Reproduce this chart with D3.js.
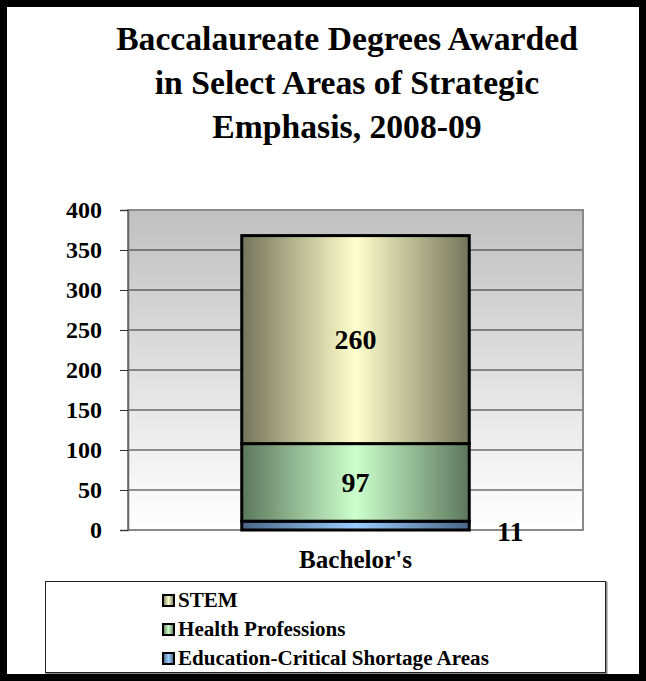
<!DOCTYPE html>
<html>
<head>
<meta charset="utf-8">
<script src="https://cdn.jsdelivr.net/npm/d3@7"></script>
<style>
  html, body { margin: 0; padding: 0; background: #fff; }
  svg { display: block; }
  svg text { font-family: "Liberation Serif", "DejaVu Serif", serif; font-weight: bold; fill: #000; }
</style>
</head>
<body>
<svg id="chart" width="646" height="681"></svg>
<script>
// ---- Data ----
const categories = ["Bachelor's"];
const seriesNames = ["Education-Critical Shortage Areas", "Health Professions", "STEM"];
const educationValues = [11];
const healthValues = [97];
const stemValues = [260];
const yTicks = [0, 50, 100, 150, 200, 250, 300, 350, 400];
const titleLines = ["Baccalaureate Degrees Awarded", "in Select Areas of Strategic", "Emphasis, 2008-09"];
const legendOrder = ["STEM", "Health Professions", "Education-Critical Shortage Areas"];

const colors = {
  "STEM": { edge: "#74745a", mid: "#ffffcc" },
  "Health Professions": { edge: "#5c775c", mid: "#ccffcc" },
  "Education-Critical Shortage Areas": { edge: "#4a6688", mid: "#99ccff" }
};

const svg = d3.select("#chart");
const W = 646, H = 681;
const defs = svg.append("defs");

function fitSize(sel, refNode, target, base) {
  const w = refNode.getComputedTextLength();
  const s = base * target / w;
  sel.style("font-size", s + "px");
  return s;
}

svg.append("rect").attr("x", 0).attr("y", 0).attr("width", W).attr("height", H).attr("fill", "#fff");

// Title
const title = svg.append("text").attr("text-anchor", "middle").style("font-size", "30px");
const tspans = titleLines.map((t, i) =>
  title.append("tspan").attr("x", 347).attr("y", 50 + i * 44).text(t));
fitSize(title, tspans[0].node(), 462, 30);

// Plot area
const plot = { left: 128, right: 583, top: 210, bottom: 530 };
const x = d3.scaleBand().domain(categories).range([plot.left, plot.right]).paddingInner(0.5).paddingOuter(0.25);
const y = d3.scaleLinear().domain([0, 400]).range([plot.bottom, plot.top]);

const bg = defs.append("linearGradient").attr("id", "bg").attr("x1", 0).attr("y1", 0).attr("x2", 0).attr("y2", 1);
bg.append("stop").attr("offset", "0%").attr("stop-color", "#c0c0c0");
bg.append("stop").attr("offset", "100%").attr("stop-color", "#ffffff");

svg.append("rect")
  .attr("x", plot.left).attr("y", plot.top)
  .attr("width", plot.right - plot.left).attr("height", plot.bottom - plot.top)
  .attr("fill", "url(#bg)");

svg.append("g").selectAll("line").data(yTicks.filter(d => d > 0 && d < 400)).join("line")
  .attr("x1", plot.left).attr("x2", plot.right)
  .attr("y1", d => y(d)).attr("y2", d => y(d))
  .attr("stroke", "#2a2a2a").attr("stroke-width", 1);

svg.append("rect")
  .attr("x", plot.left).attr("y", plot.top)
  .attr("width", plot.right - plot.left).attr("height", plot.bottom - plot.top)
  .attr("fill", "none").attr("stroke", "#8a8a8a").attr("stroke-width", 2);

// Y axis
const yAxis = d3.axisLeft(y).tickValues(yTicks).tickSize(8).tickPadding(18).tickFormat(d3.format("d"));
const gy = svg.append("g").attr("transform", `translate(${plot.left},0)`).call(yAxis)
  .attr("font-family", null).attr("font-size", null);
gy.select(".domain").attr("stroke", "#666").attr("stroke-width", 1.5);
gy.selectAll(".tick line").attr("stroke", "#333");
const yTexts = gy.selectAll(".tick text").attr("fill", "#000").style("font-size", "20px");
fitSize(yTexts, yTexts.nodes()[yTexts.size() - 1], 36, 20);

// X axis
const xAxis = d3.axisBottom(x).tickSize(0).tickPadding(20);
const gx = svg.append("g").attr("transform", `translate(0,${plot.bottom})`).call(xAxis)
  .attr("font-family", null).attr("font-size", null);
gx.select(".domain").remove();
const xTexts = gx.selectAll(".tick text").attr("fill", "#000").style("font-size", "20px");
fitSize(xTexts, xTexts.node(), 113, 20);

// Stack
const rows = categories.map((c, i) => ({
  category: c,
  "Education-Critical Shortage Areas": educationValues[i],
  "Health Professions": healthValues[i],
  "STEM": stemValues[i]
}));
const stack = d3.stack().keys(seriesNames)(rows);

seriesNames.forEach((name, i) => {
  const g = defs.append("linearGradient").attr("id", "grad" + i).attr("x1", 0).attr("y1", 0).attr("x2", 1).attr("y2", 0);
  g.append("stop").attr("offset", "0%").attr("stop-color", colors[name].edge);
  g.append("stop").attr("offset", "50%").attr("stop-color", colors[name].mid);
  g.append("stop").attr("offset", "100%").attr("stop-color", colors[name].edge);
});

const layers = svg.append("g").selectAll("g").data(stack).join("g")
  .attr("fill", (d, i) => `url(#grad${i})`);
layers.selectAll("rect").data(d => d.map(p => ({ p, key: d.key }))).join("rect")
  .attr("x", d => x(d.p.data.category))
  .attr("width", x.bandwidth())
  .attr("y", d => y(d.p[1]))
  .attr("height", d => y(d.p[0]) - y(d.p[1]))
  .attr("stroke", "#000").attr("stroke-width", 3);

// Data labels
const labelG = svg.append("g");
stack.forEach(layer => {
  layer.forEach(p => {
    const v = p[1] - p[0];
    let lx = x(p.data.category) + x.bandwidth() / 2;
    let ly = y((p[0] + p[1]) / 2);
    if (layer.key === "Education-Critical Shortage Areas") {
      lx = x(p.data.category) + x.bandwidth() + 41;
      ly = y(p[0]) + 1;
    }
    labelG.append("text")
      .attr("class", "lbl" + (layer.key === "STEM" ? " stem" : ""))
      .attr("x", lx).attr("y", ly)
      .attr("text-anchor", "middle").attr("dominant-baseline", "central")
      .style("font-size", "24px")
      .text(v);
  });
});
fitSize(labelG.selectAll("text"), labelG.select(".stem").node(), 42, 24);

// Legend
svg.append("rect").attr("x", 46.5).attr("y", 582.5).attr("width", 560).attr("height", 91)
  .attr("fill", "none").attr("stroke", "#888").attr("stroke-width", 2);
svg.append("rect").attr("x", 45.5).attr("y", 581.5).attr("width", 560).attr("height", 91)
  .attr("fill", "#fff").attr("stroke", "#222").attr("stroke-width", 1);

const legendY = d3.scalePoint().domain(legendOrder).range([600, 658]);
const lg = svg.append("g").selectAll("g").data(legendOrder).join("g")
  .attr("transform", d => `translate(163,${legendY(d)})`);
lg.append("rect").attr("x", 0).attr("y", -5).attr("width", 11).attr("height", 11)
  .attr("fill", d => `url(#grad${seriesNames.indexOf(d)})`)
  .attr("stroke", "#000").attr("stroke-width", 2);
const lgTexts = lg.append("text").attr("x", 15).attr("y", 0).attr("dominant-baseline", "central")
  .style("font-size", "18px").text(d => d);
fitSize(lgTexts, lgTexts.nodes()[2], 311, 18);

// Outer black frame
svg.append("rect").attr("x", 3.5).attr("y", 3.5).attr("width", W - 7).attr("height", H - 7)
  .attr("fill", "none").attr("stroke", "#000").attr("stroke-width", 7);
</script>
</body>
</html>
